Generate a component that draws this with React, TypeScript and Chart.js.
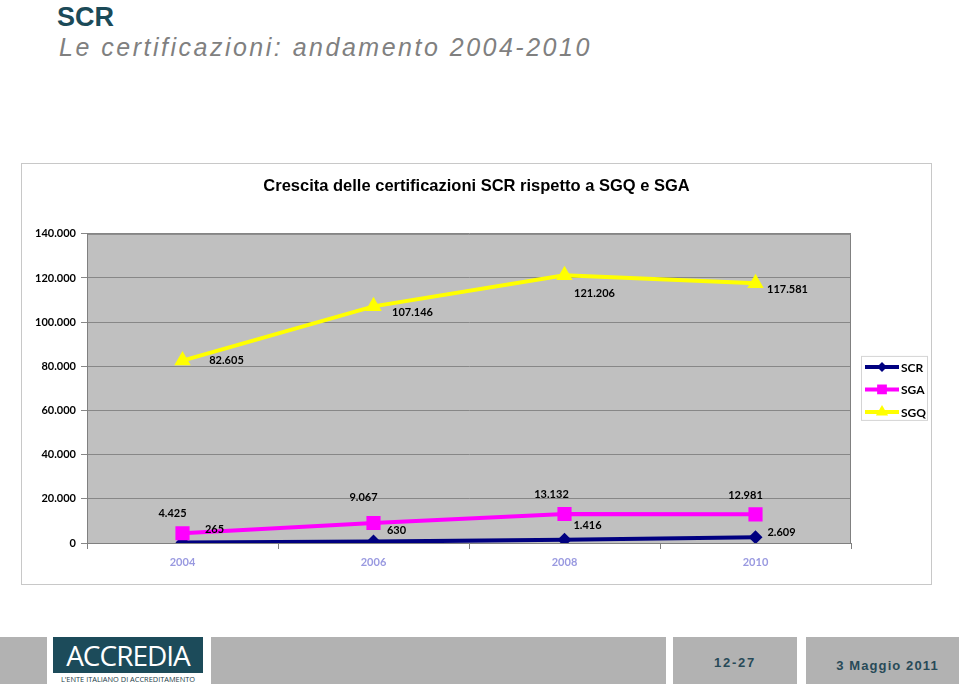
import React, { useEffect, useRef } from "react";
import { Chart, registerables } from "chart.js";

Chart.register(...registerables);

// ---- data ----
const categories = ["2004", "2006", "2008", "2010"];
const seriesNames = ["SCR", "SGA", "SGQ"];
const scrValues = [265, 630, 1416, 2609];
const sgaValues = [4425, 9067, 13132, 12981];
const sgqValues = [82605, 107146, 121206, 117581];
const yMin = 0;
const yMax = 140000;
const yStep = 20000;
const chartTitle = "Crescita delle certificazioni SCR rispetto a SGQ e SGA";

// ---- styles ----
const seriesColors = ["#000080", "#ff00ff", "#ffff00"];
const seriesPointStyles = ["rectRot", "rect", "triangle"];
const seriesPointRadius = [7, 10, 9.5];
// data label offsets (px) relative to each point, per series
const labelOffsets = [
  [[32, -13], [23, -11], [23, -14], [26, -5]],
  [[-10, -20], [-10, -26], [-13, -20], [-10, -19]],
  [[44, 0], [39, 6], [30, 18], [32, 6]],
];

const LABEL_FONT = "bold 11px Lato, 'Open Sans', sans-serif";

const fmt = (v: number) =>
  String(Math.round(v)).replace(/\B(?=(\d{3})+(?!\d))/g, ".");

const bgPlugin = {
  id: "plotBg",
  beforeDraw(chart: any) {
    const { ctx, chartArea: a } = chart;
    ctx.save();
    ctx.fillStyle = "#c0c0c0";
    ctx.fillRect(a.left, a.top, a.right - a.left, a.bottom - a.top);
    ctx.restore();
  },
  afterDatasetsDraw(chart: any) {
    const { ctx, chartArea: a } = chart;
    ctx.save();
    ctx.strokeStyle = "#808080";
    ctx.lineWidth = 1;
    ctx.beginPath();
    ctx.moveTo(a.left, a.top + 0.5);
    ctx.lineTo(a.right - 0.5, a.top + 0.5);
    ctx.lineTo(a.right - 0.5, a.bottom);
    ctx.stroke();
    ctx.restore();
  },
};

const dataLabelPlugin = {
  id: "dataLabels",
  afterDatasetsDraw(chart: any) {
    const { ctx } = chart;
    ctx.save();
    ctx.font = LABEL_FONT;
    ctx.fillStyle = "#000";
    ctx.textAlign = "center";
    ctx.textBaseline = "middle";
    chart.data.datasets.forEach((ds: any, di: number) => {
      const meta = chart.getDatasetMeta(di);
      meta.data.forEach((pt: any, i: number) => {
        const off = labelOffsets[di][i];
        ctx.fillText(fmt(ds.data[i]), pt.x + off[0], pt.y + off[1]);
      });
    });
    ctx.restore();
  },
};

const legendPlugin = {
  id: "boxLegend",
  afterDraw(chart: any) {
    const { ctx, chartArea: a } = chart;
    const bw = 67;
    const bh = 65;
    const bx = a.right + 10;
    const by = (a.top + a.bottom) / 2 - bh / 2;
    ctx.save();
    ctx.fillStyle = "#ffffff";
    ctx.fillRect(bx, by, bw, bh);
    ctx.strokeStyle = "#d4d4d4";
    ctx.lineWidth = 1;
    ctx.strokeRect(bx + 0.5, by + 0.5, bw - 1, bh - 1);
    chart.data.datasets.forEach((ds: any, i: number) => {
      const y = by + 11 + i * 22.5;
      const x0 = bx + 4;
      const x1 = bx + 38;
      ctx.strokeStyle = ds.borderColor;
      ctx.lineWidth = 4;
      ctx.beginPath();
      ctx.moveTo(x0, y);
      ctx.lineTo(x1, y);
      ctx.stroke();
      ctx.fillStyle = ds.borderColor;
      const cx = (x0 + x1) / 2;
      const r = [5, 6.5, 7][i];
      const style = ds.pointStyle;
      ctx.beginPath();
      if (style === "rectRot") {
        ctx.moveTo(cx, y - r);
        ctx.lineTo(cx + r, y);
        ctx.lineTo(cx, y + r);
        ctx.lineTo(cx - r, y);
      } else if (style === "rect") {
        ctx.rect(cx - r * 0.75, y - r * 0.75, r * 1.5, r * 1.5);
      } else {
        ctx.moveTo(cx, y - r);
        ctx.lineTo(cx + r * 0.87, y + r * 0.5);
        ctx.lineTo(cx - r * 0.87, y + r * 0.5);
      }
      ctx.closePath();
      ctx.fill();
      ctx.fillStyle = "#000";
      ctx.font = "bold 12px Lato, 'Open Sans', sans-serif";
      ctx.textAlign = "left";
      ctx.textBaseline = "middle";
      ctx.fillText(ds.label, x1 + 2, y + 1);
    });
    ctx.restore();
  },
};

function LineChart() {
  const ref = useRef<HTMLCanvasElement | null>(null);
  useEffect(() => {
    if (!ref.current) return;
    const seriesValues = [scrValues, sgaValues, sgqValues];
    const chart = new Chart(ref.current, {
      type: "line",
      data: {
        labels: categories,
        datasets: seriesNames.map((name, i) => ({
          label: name,
          data: seriesValues[i],
          borderColor: seriesColors[i],
          backgroundColor: seriesColors[i],
          pointBackgroundColor: seriesColors[i],
          pointBorderColor: seriesColors[i],
          pointBorderWidth: 0,
          borderWidth: 4,
          pointStyle: seriesPointStyles[i] as any,
          pointRadius: seriesPointRadius[i],
          pointHoverRadius: seriesPointRadius[i],
          tension: 0,
          fill: false,
          order: 2 - i,
        })),
      },
      options: {
        animation: false,
        responsive: false,
        events: [],
        layout: { padding: 0 },
        plugins: {
          legend: { display: false },
          tooltip: { enabled: false },
          title: {
            display: true,
            text: chartTitle,
            color: "#000",
            font: {
              family: "'Liberation Sans', Arial, sans-serif",
              size: 16.5,
              weight: "bold",
              lineHeight: 1.2,
            },
            padding: { top: 13, bottom: 37 },
          },
        },
        scales: {
          x: {
            type: "category",
            offset: true,
            grid: {
              offset: true,
              drawOnChartArea: false,
              drawTicks: true,
              tickLength: 6,
              color: "#808080",
            },
            border: { color: "#808080" },
            ticks: {
              color: "#9999e0",
              font: { family: "Lato, 'Open Sans', sans-serif", size: 11, weight: "bold" },
              padding: 7,
              maxRotation: 0,
            },
            afterFit: (s: any) => {
              s.height = 41;
            },
          },
          y: {
            min: yMin,
            max: yMax,
            ticks: {
              stepSize: yStep,
              color: "#000",
              font: { family: "Lato, 'Open Sans', sans-serif", size: 11, weight: "bold" },
              padding: 5,
              callback: (v: any) => fmt(Number(v)),
            },
            grid: { color: "#878787", tickLength: 6, drawTicks: true },
            border: { color: "#808080" },
            afterFit: (s: any) => {
              s.width = 65;
            },
          },
          legendSpace: {
            type: "linear",
            position: "right",
            display: true,
            grid: { display: false, drawTicks: false },
            border: { display: false },
            ticks: { display: false },
            afterFit: (s: any) => {
              s.width = 80;
            },
          },
        },
      },
      plugins: [bgPlugin, dataLabelPlugin, legendPlugin],
    } as any);
    return () => chart.destroy();
  }, []);
  return (
    <canvas
      ref={ref}
      width={909}
      height={420}
      style={{ width: 909, height: 420, display: "block" }}
    />
  );
}

const grayBlock = (left: number, width: number, children?: React.ReactNode) => (
  <div
    style={{
      position: "absolute",
      left,
      top: 637,
      width,
      height: 47,
      background: "#b2b2b2",
      display: "flex",
      alignItems: "center",
      justifyContent: "center",
    }}
  >
    {children}
  </div>
);

export default function App() {
  return (
    <div
      style={{
        position: "fixed",
        left: 0,
        top: 0,
        width: 959,
        height: 684,
        background: "#fff",
        overflow: "hidden",
        fontFamily: "'Liberation Sans', Arial, sans-serif",
      }}
    >
      <div
        style={{
          position: "absolute",
          left: 57,
          top: 1,
          fontSize: 27,
          fontWeight: "bold",
          color: "#1b4a58",
          lineHeight: "32px",
        }}
      >
        SCR
      </div>
      <div
        style={{
          position: "absolute",
          left: 59,
          top: 32,
          fontSize: 25,
          fontStyle: "italic",
          color: "#808080",
          letterSpacing: 2.5,
          lineHeight: "30px",
          whiteSpace: "nowrap",
        }}
      >
        Le certificazioni: andamento 2004-2010
      </div>

      <div
        style={{
          position: "absolute",
          left: 21,
          top: 163,
          width: 911,
          height: 422,
          border: "1px solid #c8c8c8",
          boxSizing: "border-box",
          background: "#fff",
        }}
      >
        <LineChart />
      </div>

      {grayBlock(0, 47)}
      <div
        style={{
          position: "absolute",
          left: 53,
          top: 637,
          width: 150,
          height: 47,
          background: "#fff",
        }}
      >
        <div
          style={{
            position: "absolute",
            left: 0,
            top: 0,
            width: 150,
            height: 36,
            background: "#1c4b5a",
            color: "#fff",
            fontSize: 28,
            lineHeight: "36px",
            textAlign: "center",
            fontFamily: "'Open Sans', 'Liberation Sans', sans-serif",
            letterSpacing: -1,
          }}
        >
          ACCREDIA
        </div>
        <div
          style={{
            position: "absolute",
            left: 0,
            top: 37,
            width: 150,
            height: 10,
            fontSize: 7.4,
            lineHeight: "10px",
            color: "#1c3c48",
            textAlign: "center",
            whiteSpace: "nowrap",
            fontFamily: "'Open Sans', 'Liberation Sans', sans-serif",
          }}
        >
          L'ENTE ITALIANO DI ACCREDITAMENTO
        </div>
      </div>
      {grayBlock(211, 455)}
      {grayBlock(
        673,
        124,
        <span
          style={{
            fontSize: 13,
            fontWeight: "bold",
            color: "#284a58",
            letterSpacing: 1.8,
            marginTop: 4,
          }}
        >
          12-27
        </span>
      )}
      {grayBlock(
        806,
        153,
        <span
          style={{
            fontSize: 13,
            fontWeight: "bold",
            color: "#284a58",
            letterSpacing: 1.1,
            marginTop: 9,
            marginLeft: 10,
          }}
        >
          3 Maggio 2011
        </span>
      )}
    </div>
  );
}
